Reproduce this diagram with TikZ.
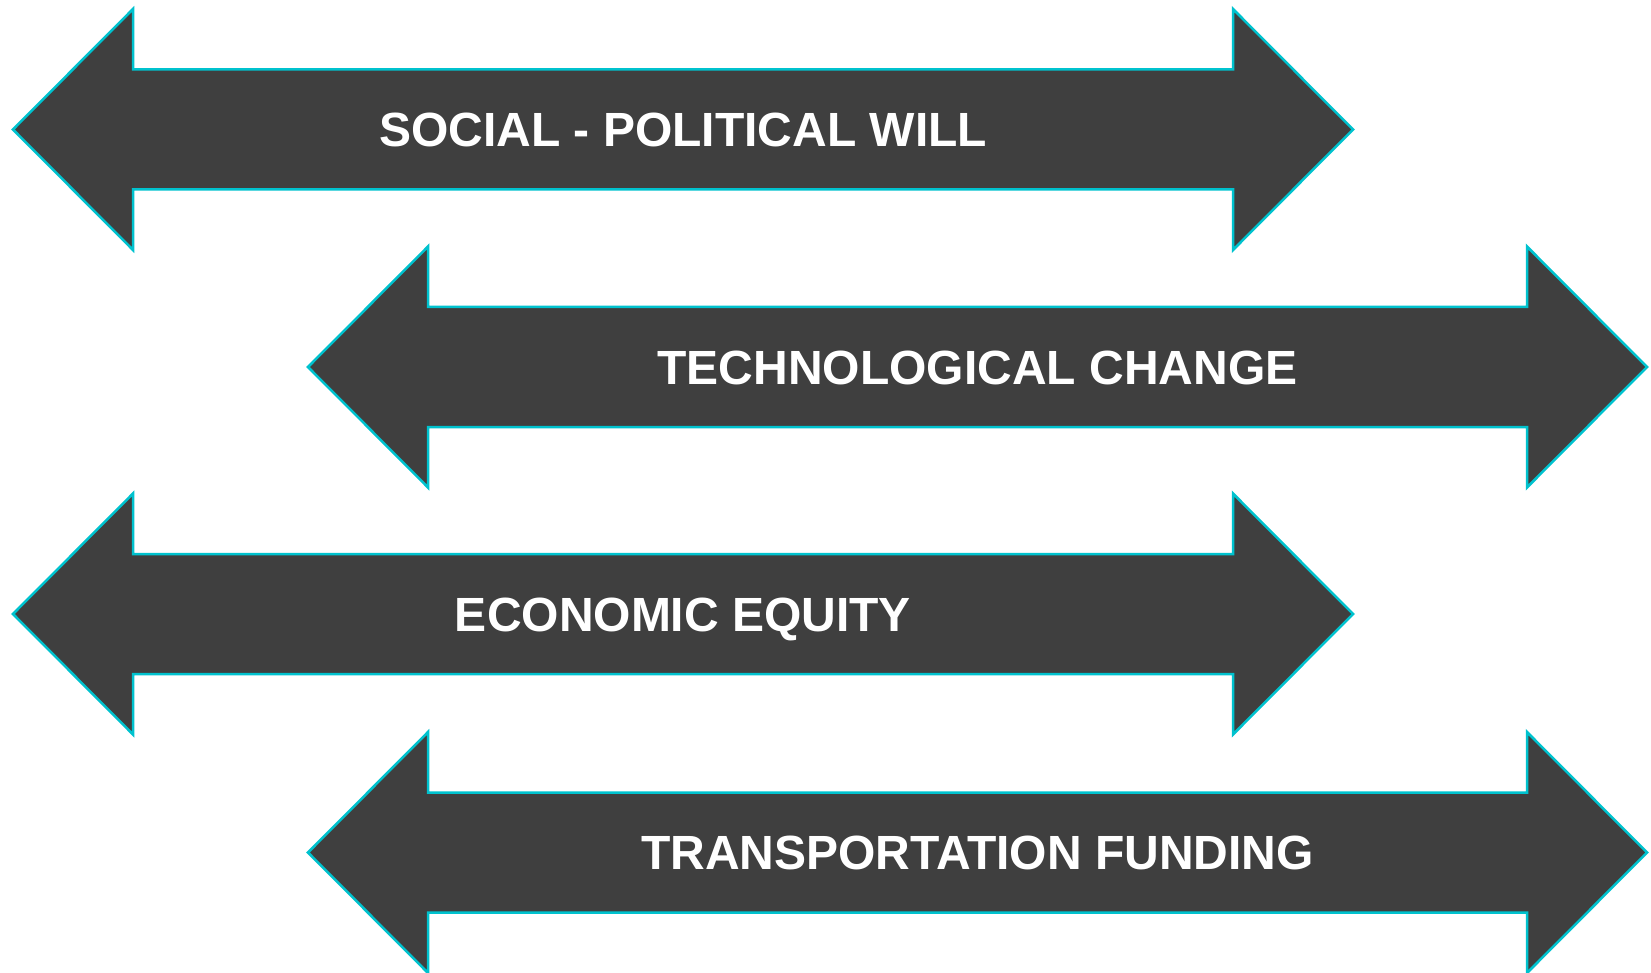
\documentclass[tikz,border=0pt]{standalone}
\usepackage{fontspec}
\setmainfont{Liberation Sans}
\usepackage{tikz}
\usetikzlibrary{positioning,calc}
\definecolor{arrowfill}{HTML}{3F3F3F}
\definecolor{arrowline}{HTML}{00C2CE}

\begin{document}
\begin{tikzpicture}[x=1pt,y=-1pt,line join=miter]
  \tikzstyle{every arrow}=[fill=arrowfill,draw=arrowline,line width=2.5pt]
  \tikzstyle{every label}=[text=white,anchor=base,inner sep=0pt,
                           font=\fontsize{48}{48}\selectfont\bfseries]

  \useasboundingbox (0,0) rectangle (1651,973);

  % double arrows: left tip, right tip, centre line
  \foreach \n/\lx/\rx/\cy/\txt in {S/13/1353/129.5/SOCIAL - POLITICAL WILL,
                                    T/308/1647/367/TECHNOLOGICAL CHANGE,
                                    E/13/1353/614/ECONOMIC EQUITY,
                                    F/308/1647/852.5/TRANSPORTATION FUNDING}
  {
    \draw[every arrow] (\lx,\cy) -- (\lx+120,\cy-120.5) -- (\lx+120,\cy-60)
      -- (\rx-120,\cy-60) -- (\rx-120,\cy-120.5) -- (\rx,\cy)
      -- (\rx-120,\cy+120.5) -- (\rx-120,\cy+60) -- (\lx+120,\cy+60)
      -- (\lx+120,\cy+120.5) -- cycle;
    \node[every label] (\n) at ({(\lx+\rx)/2},\cy+17) {\txt};
  }
\end{tikzpicture}
\end{document}
